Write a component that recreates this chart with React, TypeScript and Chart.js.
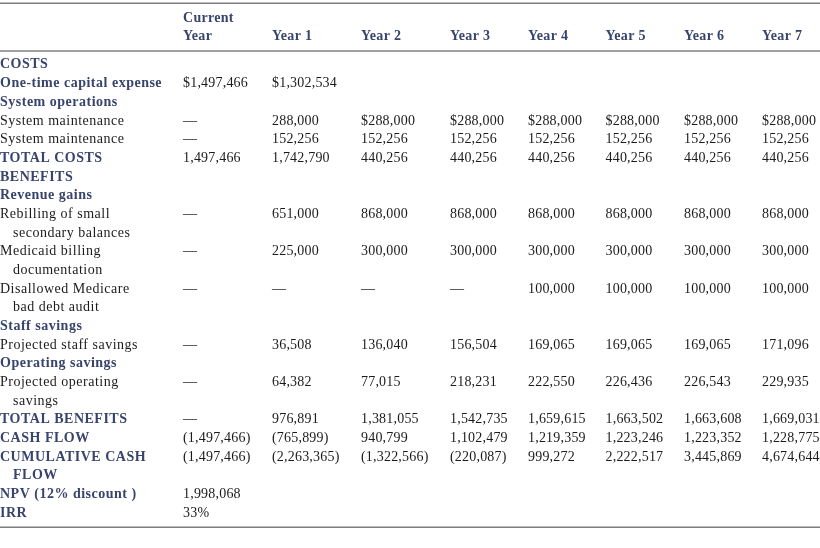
import React, { useEffect, useRef } from "react";
import { Chart, registerables } from "chart.js";

Chart.register(...registerables);

// ---- table content ----
const headerTop = ["Current", "", "", "", "", "", "", ""];
const headerBottom = ["Year", "Year 1", "Year 2", "Year 3", "Year 4", "Year 5", "Year 6", "Year 7"];

const rowLabels: string[][] = [
  ["COSTS"],
  ["One-time capital expense"],
  ["System operations"],
  ["System maintenance"],
  ["System maintenance"],
  ["TOTAL COSTS"],
  ["BENEFITS"],
  ["Revenue gains"],
  ["Rebilling of small", "secondary balances"],
  ["Medicaid billing", "documentation"],
  ["Disallowed Medicare", "bad debt audit"],
  ["Staff savings"],
  ["Projected staff savings"],
  ["Operating savings"],
  ["Projected operating", "savings"],
  ["TOTAL BENEFITS"],
  ["CASH FLOW"],
  ["CUMULATIVE CASH", "FLOW"],
  ["NPV (12% discount )"],
  ["IRR"],
];
const rowBold = [true, true, true, false, false, true, true, true, false, false, false, true, false, true, false, true, true, true, true, true];

const E = "";
const D = "—";
const costsHeader = [E, E, E, E, E, E, E, E];
const oneTimeCapital = ["$1,497,466", "$1,302,534", E, E, E, E, E, E];
const systemOperations = [E, E, E, E, E, E, E, E];
const systemMaintenanceA = [D, "288,000", "$288,000", "$288,000", "$288,000", "$288,000", "$288,000", "$288,000"];
const systemMaintenanceB = [D, "152,256", "152,256", "152,256", "152,256", "152,256", "152,256", "152,256"];
const totalCosts = ["1,497,466", "1,742,790", "440,256", "440,256", "440,256", "440,256", "440,256", "440,256"];
const benefitsHeader = [E, E, E, E, E, E, E, E];
const revenueGains = [E, E, E, E, E, E, E, E];
const rebilling = [D, "651,000", "868,000", "868,000", "868,000", "868,000", "868,000", "868,000"];
const medicaid = [D, "225,000", "300,000", "300,000", "300,000", "300,000", "300,000", "300,000"];
const disallowed = [D, D, D, D, "100,000", "100,000", "100,000", "100,000"];
const staffSavings = [E, E, E, E, E, E, E, E];
const projectedStaff = [D, "36,508", "136,040", "156,504", "169,065", "169,065", "169,065", "171,096"];
const operatingSavings = [E, E, E, E, E, E, E, E];
const projectedOperating = [D, "64,382", "77,015", "218,231", "222,550", "226,436", "226,543", "229,935"];
const totalBenefits = [D, "976,891", "1,381,055", "1,542,735", "1,659,615", "1,663,502", "1,663,608", "1,669,031"];
const cashFlow = ["(1,497,466)", "(765,899)", "940,799", "1,102,479", "1,219,359", "1,223,246", "1,223,352", "1,228,775"];
const cumulativeCashFlow = ["(1,497,466)", "(2,263,365)", "(1,322,566)", "(220,087)", "999,272", "2,222,517", "3,445,869", "4,674,644"];
const npv = ["1,998,068", E, E, E, E, E, E, E];
const irr = ["33%", E, E, E, E, E, E, E];

const rowValues = [
  costsHeader, oneTimeCapital, systemOperations, systemMaintenanceA, systemMaintenanceB, totalCosts,
  benefitsHeader, revenueGains, rebilling, medicaid, disallowed, staffSavings, projectedStaff,
  operatingSavings, projectedOperating, totalBenefits, cashFlow, cumulativeCashFlow, npv, irr,
];

// ---- layout (column widths in table units, rows in line units) ----
const COL_WIDTHS = [183, 89, 89, 89, 78, 77.5, 78.5, 78, 58];
const TABLE_WIDTH = 820;
const INDENT = 13;
const LINE_MIN = -3.667;
const LINE_MAX = 25.67;
const HEADER_TOP_LINE = -2.5;
const HEADER_BOTTOM_LINE = -1.53;
const RULE_TOP = -3.49;
const RULE_HEADER = -0.94;
const RULE_BOTTOM = 24.56;

const NAVY = "#38446c";
const INK = "#1b1b1b";
const FONT = '"Liberation Serif", "Times New Roman", serif';

const colStarts: number[] = [];
{
  let acc = 0;
  for (const w of COL_WIDTHS) {
    colStarts.push(acc);
    acc += w;
  }
}

const rowLines: number[] = [];
{
  let line = 0;
  for (const lbl of rowLabels) {
    rowLines.push(line);
    line += lbl.length;
  }
}

const cellPoints: { x: number; y: number }[] = [];
rowValues.forEach((vals, r) =>
  vals.forEach((v, c) => {
    if (v) cellPoints.push({ x: colStarts[c + 1], y: rowLines[r] });
  })
);

const tablePlugin = {
  id: "tableText",
  afterDatasetsDraw(chart: any) {
    const { ctx, scales } = chart;
    const x = scales.x;
    const y = scales.y;
    ctx.save();
    ctx.textBaseline = "alphabetic";
    ctx.textAlign = "left";

    const setFont = (bold: boolean, spacing = "0.5px") => {
      ctx.font = `${bold ? "bold " : ""}14px ${FONT}`;
      ctx.fillStyle = bold ? NAVY : INK;
      (ctx as any).letterSpacing = spacing;
    };

    const rule = (v: number, color: string, w: number) => {
      ctx.strokeStyle = color;
      ctx.lineWidth = w;
      ctx.beginPath();
      ctx.moveTo(x.getPixelForValue(0), y.getPixelForValue(v));
      ctx.lineTo(x.getPixelForValue(TABLE_WIDTH), y.getPixelForValue(v));
      ctx.stroke();
    };
    rule(RULE_TOP, "#7d7d7d", 1.5);
    rule(RULE_HEADER, "#a0a0a0", 2);
    rule(RULE_BOTTOM, "#7d7d7d", 1.5);

    setFont(true, "0.3px");
    headerTop.forEach((t, c) => {
      if (t) ctx.fillText(t, x.getPixelForValue(colStarts[c + 1]), y.getPixelForValue(HEADER_TOP_LINE));
    });
    headerBottom.forEach((t, c) => {
      if (t) ctx.fillText(t, x.getPixelForValue(colStarts[c + 1]), y.getPixelForValue(HEADER_BOTTOM_LINE));
    });

    rowLabels.forEach((lines, r) => {
      const bold = rowBold[r];
      setFont(bold);
      lines.forEach((t, i) => {
        ctx.fillText(t, x.getPixelForValue(i === 0 ? 0 : INDENT), y.getPixelForValue(rowLines[r] + i));
      });
      setFont(false, "0.2px");
      rowValues[r].forEach((v, c) => {
        if (v) ctx.fillText(v, x.getPixelForValue(colStarts[c + 1]), y.getPixelForValue(rowLines[r]));
      });
    });
    ctx.restore();
  },
};

export default function App() {
  const ref = useRef<HTMLCanvasElement>(null);
  useEffect(() => {
    document.body.style.margin = "0";
    const chart = new Chart(ref.current!, {
      type: "scatter",
      data: {
        datasets: [{ data: cellPoints, pointRadius: 0, pointHoverRadius: 0, showLine: false }],
      },
      options: {
        animation: false,
        responsive: false,
        maintainAspectRatio: false,
        layout: { padding: 0 },
        events: [],
        plugins: { legend: { display: false }, tooltip: { enabled: false } },
        scales: {
          x: { type: "linear", min: 0, max: TABLE_WIDTH, display: false },
          y: { type: "linear", min: LINE_MIN, max: LINE_MAX, reverse: true, display: false },
        },
      },
      plugins: [tablePlugin],
    });
    return () => chart.destroy();
  }, []);
  return (
    <div style={{ width: 820, height: 548, background: "#fff" }}>
      <canvas ref={ref} width={820} height={548} />
    </div>
  );
}
